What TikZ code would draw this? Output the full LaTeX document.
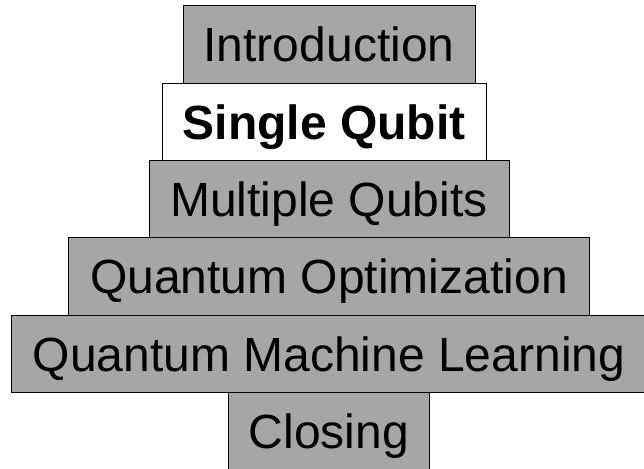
\documentclass[tikz,border=0pt]{standalone}
\usepackage{fontspec}
\setmainfont{Liberation Sans}
\usetikzlibrary{positioning}

\begin{document}
\begin{tikzpicture}[
		x=1pt, y=1pt,
		% Styles
		layer/.style={draw=black, line width=1pt, fill=black!35, outer sep=0pt, inner sep=0pt,
				minimum height=77.3pt, text height=34.4pt, text depth=0pt,
				font=\fontsize{48}{58}\selectfont},
		current/.style={layer, fill=white, font=\fontsize{48}{58}\selectfont\bfseries}
	]

	% --- 1. KADER ---
	\useasboundingbox (0,0) rectangle (644,-468);

	% --- 2. DE STAPEL ---
	\node[layer, minimum width=292] (intro) at (329,-44.65) {Introduction};
	\node[current, minimum width=324, below=0pt of intro, xshift=-5pt] (single) {Single Qubit};
	\node[layer, minimum width=360, below=0pt of single, xshift=5pt] (multi) {Multiple Qubits};
	\node[layer, minimum width=521, below=0pt of multi] (optim) {Quantum Optimization};
	\node[layer, minimum width=636, below=0pt of optim] (qml) {Quantum Machine Learning};
	\node[layer, minimum width=201, below=0pt of qml] (closing) {Closing};

\end{tikzpicture}
\end{document}
